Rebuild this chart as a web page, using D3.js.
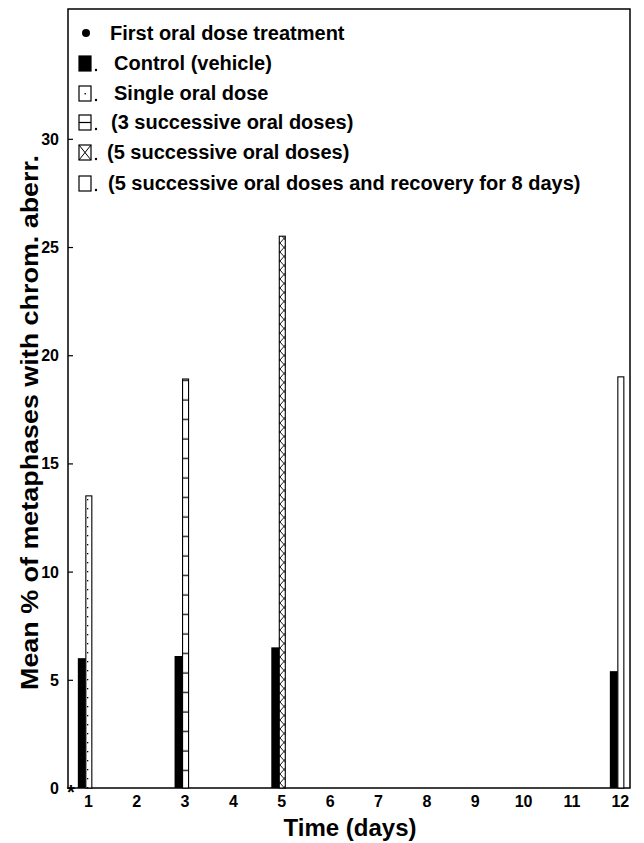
<!DOCTYPE html>
<html>
<head>
<meta charset="utf-8">
<script src="https://cdn.jsdelivr.net/npm/d3@7"></script>
<style>
  body { margin: 0; background: #fff; }
  text { font-family: "Liberation Sans", Arial, sans-serif; font-weight: bold; fill: #000; }
</style>
</head>
<body>
<div id="chart"></div>
<script>
// data
const days = [1, 3, 5, 12];
const controlValues = [6.0, 6.1, 6.5, 5.4];
const treatedValues = [13.5, 18.9, 25.5, 19.0];
const treatedGroups = ["single", "three", "five", "recovery"];
const xTicks = [1, 2, 3, 4, 5, 6, 7, 8, 9, 10, 11, 12];
const yTicks = [0, 5, 10, 15, 20, 25, 30];
const legendLabels = [
  "First oral dose treatment",
  "Control (vehicle)",
  "Single oral dose",
  "(3 successive oral doses)",
  "(5 successive oral doses)",
  "(5 successive oral doses and recovery for 8 days)"
];
const legendKeys = ["dot", "control", "single", "three", "five", "recovery"];

const width = 644, height = 843;
const plotLeft = 68, plotRight = 630, plotTop = 9, plotBottom = 788;

const svg = d3.select("#chart").append("svg")
  .attr("width", width)
  .attr("height", height);

// fill patterns
const defs = svg.append("defs");

const pDots = defs.append("pattern").attr("id", "p-single")
  .attr("patternUnits", "userSpaceOnUse").attr("width", 6).attr("height", 9);
pDots.append("rect").attr("width", 6).attr("height", 9).attr("fill", "#fff");
pDots.append("rect").attr("x", 3).attr("y", 4).attr("width", 1.3).attr("height", 1.3).attr("fill", "#000");

const pLines = defs.append("pattern").attr("id", "p-three")
  .attr("patternUnits", "userSpaceOnUse").attr("width", 6).attr("height", 19.5);
pLines.append("rect").attr("width", 6).attr("height", 19.5).attr("fill", "#fff");
pLines.append("line").attr("x1", 0).attr("x2", 6).attr("y1", 10).attr("y2", 10)
  .attr("stroke", "#000").attr("stroke-width", 1.2);

const pCross = defs.append("pattern").attr("id", "p-five")
  .attr("patternUnits", "userSpaceOnUse").attr("width", 8).attr("height", 18);
pCross.append("rect").attr("width", 8).attr("height", 18).attr("fill", "#fff");
pCross.append("path").attr("d", "M0 0 L8 9 L0 18 M8 0 L0 9 L8 18")
  .attr("stroke", "#000").attr("stroke-width", 0.9).attr("fill", "none");

const fills = {
  control: "#000",
  single: "url(#p-single)",
  three: "url(#p-three)",
  five: "url(#p-five)",
  recovery: "#fff"
};

// scales
const x = d3.scaleLinear().domain([0.59, 12.21]).range([plotLeft, plotRight]);
const y = d3.scaleLinear().domain([0, 36]).range([plotBottom, plotTop]);

// frame
svg.append("rect")
  .attr("x", plotLeft).attr("y", plotTop)
  .attr("width", plotRight - plotLeft).attr("height", plotBottom - plotTop)
  .attr("fill", "none").attr("stroke", "#000").attr("stroke-width", 1.5);

// y axis
const yAxis = svg.append("g")
  .attr("transform", `translate(${plotLeft},0)`)
  .call(d3.axisRight(y).tickValues(yTicks).tickSize(5).tickFormat(""));
yAxis.select(".domain").remove();
yAxis.selectAll("line").attr("stroke-width", 1.2);
yTicks.forEach(t => {
  svg.append("text")
    .attr("x", plotLeft - 9).attr("y", y(t) + 6)
    .attr("text-anchor", "end")
    .attr("font-size", 16)
    .text(t);
});

// x axis
const xAxis = svg.append("g")
  .attr("transform", `translate(0,${plotBottom})`)
  .call(d3.axisBottom(x).tickValues(xTicks).tickSize(0).tickPadding(8));
xAxis.select(".domain").remove();
xAxis.selectAll("text")
  .attr("font-size", 16)
  .style("font-family", "'Liberation Sans', Arial, sans-serif")
  .style("font-weight", "bold");

// bars
const controlW = 8, treatedW = 6;
svg.selectAll(".ctrl").data(days).join("rect")
  .attr("class", "ctrl")
  .attr("x", (d) => x(d) - 10)
  .attr("y", (d, i) => y(controlValues[i]))
  .attr("width", controlW)
  .attr("height", (d, i) => plotBottom - y(controlValues[i]))
  .attr("fill", "#000");

svg.selectAll(".trt").data(days).join("rect")
  .attr("class", "trt")
  .attr("x", (d) => x(d) - 2)
  .attr("y", (d, i) => y(treatedValues[i]))
  .attr("width", treatedW)
  .attr("height", (d, i) => plotBottom - y(treatedValues[i]))
  .attr("fill", (d, i) => fills[treatedGroups[i]])
  .attr("stroke", "#000").attr("stroke-width", 1.1);

// first dose marker at origin
svg.append("text")
  .attr("x", plotLeft + 3).attr("y", plotBottom + 11)
  .attr("text-anchor", "middle")
  .attr("font-size", 20)
  .text("*");

// legend
const rowY = [33, 63, 93, 122, 152, 183];
const textX = [110, 114, 114, 111, 107, 108];
legendKeys.forEach((k, i) => {
  const cy = rowY[i];
  if (k === "dot") {
    svg.append("circle").attr("cx", 86).attr("cy", cy).attr("r", 4).attr("fill", "#000");
  } else {
    const bx = 79, by = cy - 7, bw = 12, bh = 15;
    svg.append("rect").attr("x", bx).attr("y", by).attr("width", bw).attr("height", bh)
      .attr("fill", k === "control" ? "#000" : "#fff")
      .attr("stroke", "#000").attr("stroke-width", 1.2);
    if (k === "single") {
      svg.append("rect").attr("x", bx + 5.5).attr("y", cy).attr("width", 1.4).attr("height", 1.4).attr("fill", "#000");
    } else if (k === "three") {
      svg.append("line").attr("x1", bx).attr("x2", bx + bw).attr("y1", cy + 0.5).attr("y2", cy + 0.5)
        .attr("stroke", "#000").attr("stroke-width", 1.2);
    } else if (k === "five") {
      svg.append("path").attr("d", `M${bx} ${by} L${bx + bw} ${by + bh} M${bx + bw} ${by} L${bx} ${by + bh}`)
        .attr("stroke", "#000").attr("stroke-width", 1);
    }
    svg.append("circle").attr("cx", 96).attr("cy", cy + 7).attr("r", 1.2).attr("fill", "#000");
  }
  svg.append("text")
    .attr("x", textX[i]).attr("y", cy + 7)
    .attr("font-size", 20)
    .text(legendLabels[i]);
});

// axis titles
svg.append("text")
  .attr("x", 350).attr("y", 836)
  .attr("text-anchor", "middle")
  .attr("font-size", 24)
  .text("Time (days)");

svg.append("text")
  .attr("transform", `translate(38,${(155 + 690) / 2}) rotate(-90)`)
  .attr("text-anchor", "middle")
  .attr("font-size", 23)
  .attr("textLength", 535)
  .attr("lengthAdjust", "spacingAndGlyphs")
  .text("Mean % of metaphases with chrom. aberr.");
</script>
</body>
</html>
